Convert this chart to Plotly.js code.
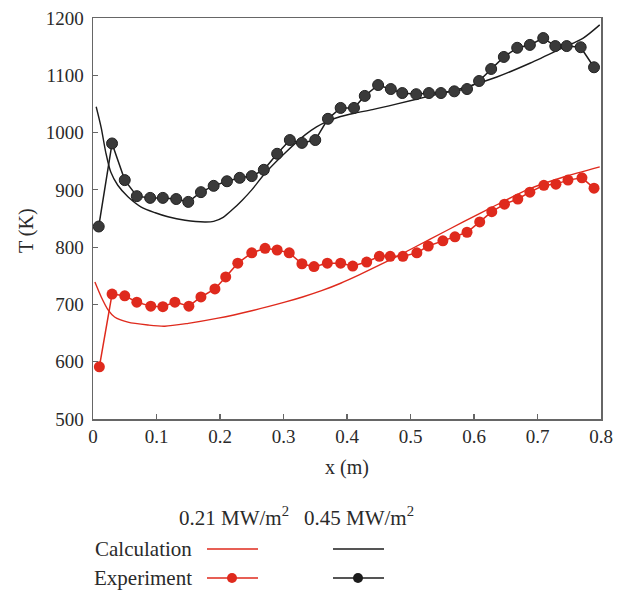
<!DOCTYPE html>
<html>
<head>
<meta charset="utf-8">
<script src="https://cdn.plot.ly/plotly-3.0.1.min.js"></script>
<style>html,body{margin:0;padding:0;background:#fff;}#chart{width:623px;height:590px;}</style>
</head>
<body>
<div id="chart"></div>
<script>
// Calculation, 0.21 MW/m2
var calcRedX = [0.003, 0.013, 0.024, 0.034, 0.055, 0.087, 0.113, 0.15, 0.197, 0.25, 0.302, 0.33, 0.36, 0.39, 0.42, 0.45, 0.479, 0.531, 0.583, 0.636, 0.688, 0.74, 0.798];
var calcRedT = [739, 713, 690, 678, 669, 664, 662, 667, 676, 689, 704, 713, 724, 737, 752, 768, 784, 814, 844, 874, 902, 922, 940];
// Calculation, 0.45 MW/m2
var calcBlackX = [0.005, 0.013, 0.020, 0.028, 0.039, 0.055, 0.076, 0.098, 0.118, 0.145, 0.176, 0.19, 0.205, 0.22, 0.235, 0.25, 0.271, 0.302, 0.334, 0.352, 0.37, 0.39, 0.413, 0.44, 0.479, 0.531, 0.583, 0.636, 0.688, 0.740, 0.772, 0.798];
var calcBlackT = [1045, 1008, 966, 931, 908, 888, 870, 860, 853, 847, 844, 845, 852, 866, 882, 900, 929, 964, 996, 1010, 1020, 1028, 1034, 1040, 1050, 1064, 1078, 1097, 1121, 1148, 1165, 1188];
// Experiment, 0.21 MW/m2
var expRedX = [0.010, 0.030, 0.050, 0.069, 0.091, 0.110, 0.129, 0.151, 0.170, 0.192, 0.209, 0.228, 0.250, 0.271, 0.290, 0.309, 0.329, 0.348, 0.369, 0.390, 0.409, 0.431, 0.451, 0.468, 0.488, 0.510, 0.528, 0.551, 0.570, 0.589, 0.609, 0.628, 0.648, 0.669, 0.688, 0.710, 0.729, 0.748, 0.770, 0.789];
var expRedT = [591, 718, 715, 704, 697, 696, 704, 697, 713, 727, 748, 772, 790, 798, 795, 790, 771, 766, 772, 772, 767, 774, 784, 784, 784, 790, 802, 811, 818, 826, 844, 862, 875, 884, 896, 908, 910, 917, 921, 903];
// Experiment, 0.45 MW/m2
var expBlackX = [0.009, 0.030, 0.050, 0.069, 0.090, 0.110, 0.131, 0.150, 0.170, 0.190, 0.211, 0.231, 0.250, 0.269, 0.290, 0.310, 0.329, 0.350, 0.370, 0.390, 0.411, 0.428, 0.449, 0.469, 0.487, 0.509, 0.529, 0.548, 0.569, 0.589, 0.608, 0.627, 0.647, 0.668, 0.688, 0.709, 0.728, 0.746, 0.768, 0.789];
var expBlackT = [836, 981, 917, 889, 886, 886, 884, 879, 896, 907, 915, 921, 924, 935, 963, 987, 982, 987, 1024, 1043, 1043, 1064, 1083, 1076, 1069, 1067, 1069, 1069, 1072, 1076, 1090, 1111, 1132, 1148, 1153, 1165, 1151, 1151, 1149, 1114];

var xTickVals = [0, 0.1, 0.2, 0.3, 0.4, 0.5, 0.6, 0.7, 0.8];
var xTickText = ['0', '0.1', '0.2', '0.3', '0.4', '0.5', '0.6', '0.7', '0.8'];
var yTickVals = [500, 600, 700, 800, 900, 1000, 1100, 1200];

var RED = '#df2a1d';
var BLACK = '#1c1c1c';
var FONT = 'Liberation Serif, Times New Roman, serif';
var TXT = '#2a2a2a';

var traces = [
  {x: calcRedX, y: calcRedT, mode: 'lines', line: {color: RED, width: 1.4, shape: 'spline', smoothing: 0.8}, showlegend: false, hoverinfo: 'skip'},
  {x: calcBlackX, y: calcBlackT, mode: 'lines', line: {color: BLACK, width: 1.4, shape: 'spline', smoothing: 0.8}, showlegend: false, hoverinfo: 'skip'},
  {x: expRedX, y: expRedT, mode: 'lines+markers', line: {color: RED, width: 1.5}, marker: {color: RED, size: 11, line: {color: RED, width: 0}}, showlegend: false},
  {x: expBlackX, y: expBlackT, mode: 'lines+markers', line: {color: BLACK, width: 1.5}, marker: {color: '#3a3a3a', size: 11, line: {color: '#222', width: 1}}, showlegend: false}
];

function px(x) { return (x - 93) / 508; }
function py(y) { return (419 - y) / 401; }

var layout = {
  width: 623, height: 590,
  margin: {l: 93, r: 22, t: 18, b: 171},
  paper_bgcolor: '#fff', plot_bgcolor: '#fff',
  font: {family: FONT, size: 19, color: TXT},
  showlegend: false,
  xaxis: {
    range: [0, 0.8], tickvals: xTickVals, ticktext: xTickText,
    ticks: 'inside', ticklen: 5, tickcolor: '#666', tickwidth: 1.2,
    showline: true, linecolor: '#666', linewidth: 1.5, mirror: true,
    showgrid: false, zeroline: false,
    tickfont: {family: FONT, size: 19, color: TXT}
  },
  yaxis: {
    range: [500, 1200], tickvals: yTickVals,
    ticks: 'inside', ticklen: 5, tickcolor: '#666', tickwidth: 1.2,
    showline: true, linecolor: '#666', linewidth: 1.5, mirror: true,
    showgrid: false, zeroline: false, ticklabelstandoff: 4,
    tickfont: {family: FONT, size: 19, color: TXT}
  },
  annotations: [
    {xref: 'paper', yref: 'paper', x: px(347), y: py(467), text: 'x (m)', showarrow: false, xanchor: 'center', yanchor: 'middle', font: {family: FONT, size: 20, color: TXT}},
    {xref: 'paper', yref: 'paper', x: px(26), y: py(231), text: 'T (K)', textangle: -90, showarrow: false, xanchor: 'center', yanchor: 'middle', font: {family: FONT, size: 20, color: TXT}},
    {xref: 'paper', yref: 'paper', x: px(234), y: py(516), text: '0.21 MW/m<sup>2</sup>', showarrow: false, xanchor: 'center', yanchor: 'middle', font: {family: FONT, size: 21, color: TXT}},
    {xref: 'paper', yref: 'paper', x: px(359), y: py(516), text: '0.45 MW/m<sup>2</sup>', showarrow: false, xanchor: 'center', yanchor: 'middle', font: {family: FONT, size: 21, color: TXT}},
    {xref: 'paper', yref: 'paper', x: px(194), y: py(549), text: 'Calculation', showarrow: false, xanchor: 'right', yanchor: 'middle', font: {family: FONT, size: 21, color: TXT}},
    {xref: 'paper', yref: 'paper', x: px(194), y: py(578), text: 'Experiment', showarrow: false, xanchor: 'right', yanchor: 'middle', font: {family: FONT, size: 21, color: TXT}}
  ],
  shapes: [
    {type: 'line', xref: 'paper', yref: 'paper', x0: px(207), x1: px(258), y0: py(549), y1: py(549), line: {color: RED, width: 1.4}},
    {type: 'line', xref: 'paper', yref: 'paper', x0: px(333), x1: px(384), y0: py(549), y1: py(549), line: {color: BLACK, width: 1.4}},
    {type: 'line', xref: 'paper', yref: 'paper', x0: px(207), x1: px(258), y0: py(578), y1: py(578), line: {color: RED, width: 1.4}},
    {type: 'line', xref: 'paper', yref: 'paper', x0: px(333), x1: px(384), y0: py(578), y1: py(578), line: {color: BLACK, width: 1.4}},
    {type: 'circle', xref: 'paper', yref: 'paper', x0: px(227), x1: px(237), y0: py(583), y1: py(573), fillcolor: RED, line: {color: RED, width: 0}},
    {type: 'circle', xref: 'paper', yref: 'paper', x0: px(353), x1: px(363), y0: py(583), y1: py(573), fillcolor: BLACK, line: {color: BLACK, width: 0}}
  ]
};

Plotly.newPlot('chart', traces, layout, {displayModeBar: false, staticPlot: true});
</script>
</body>
</html>
